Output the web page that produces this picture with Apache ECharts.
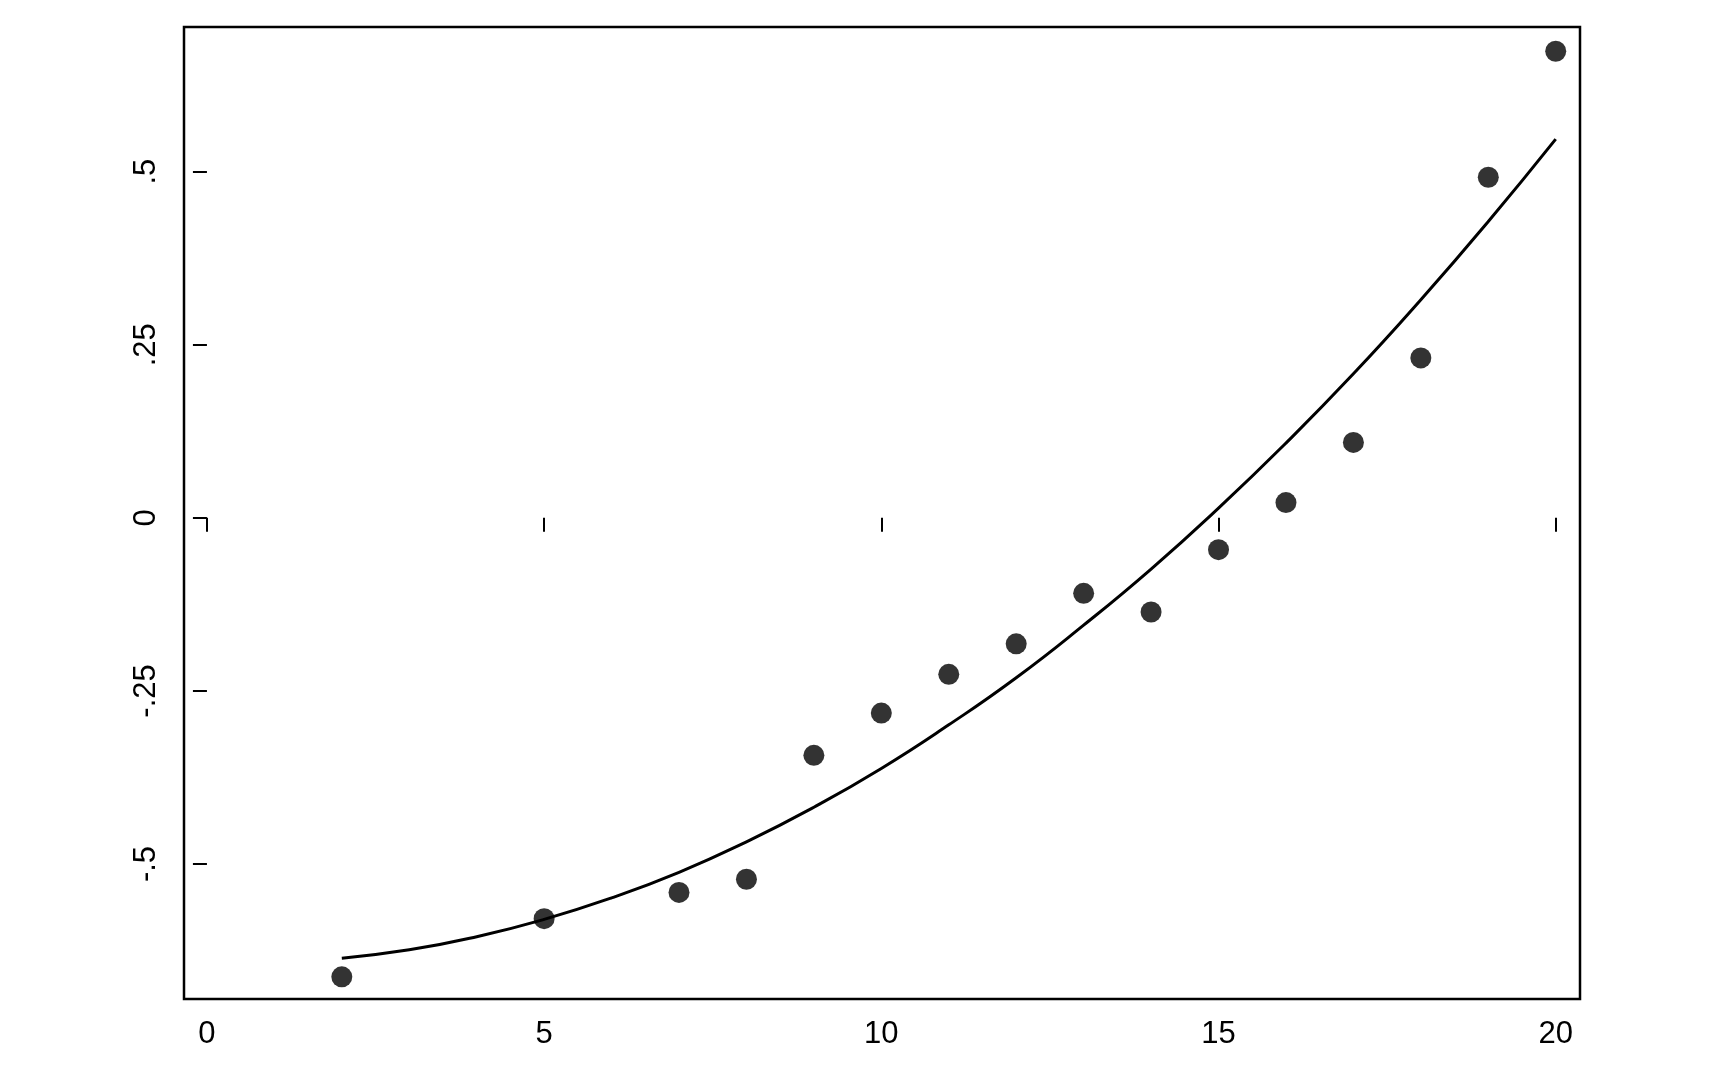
<!DOCTYPE html>
<html><head><meta charset="utf-8">
<script src="https://cdn.jsdelivr.net/npm/echarts@6/dist/echarts.min.js"></script>
<style>html,body{margin:0;padding:0;background:#fff}#c{width:1716px;height:1078px}</style>
</head><body><div id="c"></div>
<script>
const xPoints = [2,5,7,8,9,10,11,12,13,14,15,16,17,18,19,20];
const yPoints = [-0.663,-0.579,-0.541,-0.522,-0.343,-0.282,-0.226,-0.182,-0.109,-0.136,-0.046,0.022,0.109,0.231,0.492,0.674];
const xFit = [2,3,4,5,6,7,8,9,10,11,12,13,14,15,16,17,18,19,20];
const yFit = [-0.636,-0.624,-0.605,-0.580,-0.549,-0.512,-0.468,-0.418,-0.362,-0.299,-0.231,-0.155,-0.074,0.014,0.108,0.208,0.315,0.428,0.547];
const xTicks = [0,5,10,15,20];
const yTicks = [-0.5,-0.25,0,0.25,0.5];
const fmtY = v => { const s = String(v); return s.replace(/^(-?)0\./,'$1.'); };
const chart = echarts.init(document.getElementById('c'));
const font = {fontFamily:'Liberation Sans, Arial, sans-serif', fontSize:31, color:'#000'};
chart.setOption({
  animation:false,
  grid:{left:184,right:136,top:27,bottom:79,show:true,borderColor:'#000',borderWidth:2.5,backgroundColor:'#fff'},
  xAxis:{type:'value',min:-0.34,max:20.36,splitLine:{show:false},
    axisLine:{show:false},
    axisTick:{show:true,customValues:xTicks,length:14,lineStyle:{color:'#000',width:2}},
    axisLabel:Object.assign({customValues:xTicks,margin:20},font)},
  yAxis:{type:'value',min:-0.695,max:0.709,splitLine:{show:false},
    axisLine:{show:false},
    axisTick:{show:true,customValues:yTicks,length:14,lineStyle:{color:'#000',width:2}},
    axisLabel:Object.assign({customValues:yTicks,margin:22,rotate:90,formatter:fmtY,verticalAlign:'bottom',align:'center'},font)},
  series:[
    {type:'line',data:xFit.map((x,i)=>[x,yFit[i]]),smooth:true,showSymbol:false,lineStyle:{color:'#000',width:3}},
    {type:'scatter',data:xPoints.map((x,i)=>[x,yPoints[i]]),symbolSize:21,itemStyle:{color:'#000'}}
  ]
});
</script></body></html>
